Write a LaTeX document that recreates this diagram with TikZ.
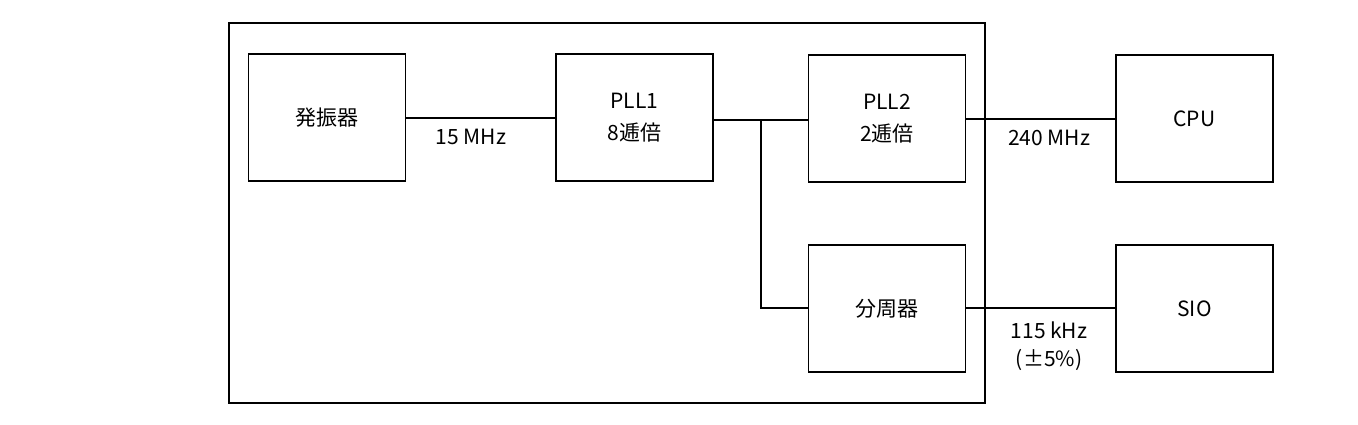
\documentclass[tikz,border=0pt]{standalone}
\usepackage{fontspec}
\setmainfont{Noto Sans CJK JP}
\begin{document}
\begin{tikzpicture}[x=1pt,y=-1pt,line width=1.3pt,
  box/.style={draw,minimum width=157pt,minimum height=127pt,align=center,font=\fontsize{21}{32}\selectfont},
  lbl/.style={font=\fontsize{21}{26}\selectfont,align=center}]
\useasboundingbox (0,0) rectangle (1358,424);
\draw (229,23) rectangle (985,403);
\node[box] (osc) at (327,117.5) {発振器};
\node[box] (pll1) at (634.5,117.5) {PLL1\\8逓倍};
\node[box] (pll2) at (887,118.5) {PLL2\\2逓倍};
\node[box] (cpu) at (1194.5,118.5) {CPU};
\node[box] (div) at (887,308.5) {分周器};
\node[box] (sio) at (1194.5,308.5) {SIO};
\coordinate (j) at (761,120);
\draw (osc.east |- 0,118) -- (pll1.west |- 0,118);
\draw (pll1.east |- j) -- (pll2.west |- j);
\draw (j) -- (761,308) -- (div.west |- 0,308);
\draw (pll2.east |- 0,119) -- (cpu.west |- 0,119);
\draw (div.east |- 0,308) -- (sio.west |- 0,308);
\node[lbl] at (471,137) {15 MHz};
\node[lbl] at (1049,138) {240 MHz};
\node[lbl] at (1049,330) {115 kHz};
\node[lbl] at (1049,360) {(±5\%)};
\end{tikzpicture}
\end{document}
